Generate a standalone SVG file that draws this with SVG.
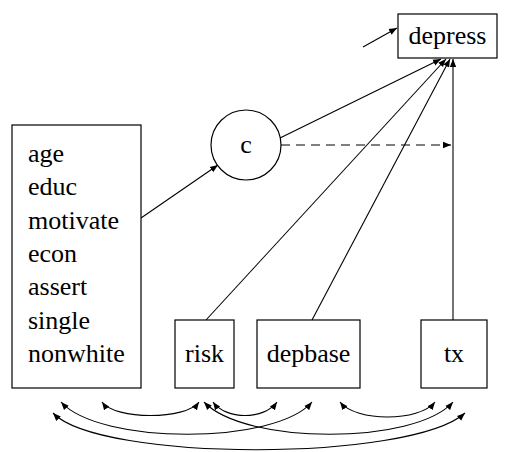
<svg xmlns="http://www.w3.org/2000/svg" width="505" height="452" viewBox="0 0 505 452">
<style>
.box{fill:#fff;stroke:#000;stroke-width:1.2}
.c{stroke:#000;stroke-width:1.1;fill:none}
</style>
<defs>
<marker id="ah" viewBox="0 0 10 10" refX="10" refY="5" markerWidth="8" markerHeight="8" markerUnits="userSpaceOnUse" orient="auto-start-reverse">
<path d="M0,1 L10,5 L0,9 z" fill="#000"/>
</marker>
</defs>
<rect width="505" height="452" fill="#fff"/>
<g id="connectors">
<line class="c" x1="363" y1="47" x2="397" y2="28" marker-end="url(#ah)"/>
<line class="c" x1="141" y1="218" x2="218" y2="165" marker-end="url(#ah)"/>
<line class="c" x1="280" y1="138" x2="441" y2="59" marker-end="url(#ah)"/>
<line class="c" x1="206" y1="320" x2="446" y2="59" marker-end="url(#ah)"/>
<line class="c" x1="312" y1="320" x2="450" y2="59" marker-end="url(#ah)"/>
<line class="c" x1="453" y1="320" x2="453" y2="59" marker-end="url(#ah)"/>
<line class="c" x1="281" y1="145" x2="451" y2="145" stroke-dasharray="9,6" marker-end="url(#ah)"/>
<path class="c" d="M102,402 C115,420 186,420 199,402" marker-start="url(#ah)" marker-end="url(#ah)"/>
<path class="c" d="M213,402 C226,420 264,420 277,402" marker-start="url(#ah)" marker-end="url(#ah)"/>
<path class="c" d="M340,402 C356,422 419,422 435,402" marker-start="url(#ah)" marker-end="url(#ah)"/>
<path class="c" d="M61,402 C100,445 275,445 312,402" marker-start="url(#ah)" marker-end="url(#ah)"/>
<path class="c" d="M204,402 C245,445 415,445 453,402" marker-start="url(#ah)" marker-end="url(#ah)"/>
<path class="c" d="M53,413 C100,462 410,462 465,413" marker-start="url(#ah)" marker-end="url(#ah)"/>
</g>
<g font-family="Liberation Serif, Times New Roman, DejaVu Serif, serif" font-size="26" fill="#000">
<g id="covariates">
<rect class="box" x="12" y="125" width="129" height="263"/>
<text x="28" y="162">age</text>
<text x="28" y="195">educ</text>
<text x="28" y="229">motivate</text>
<text x="28" y="262">econ</text>
<text x="28" y="295">assert</text>
<text x="28" y="329">single</text>
<text x="28" y="362">nonwhite</text>
</g>
<g id="c">
<circle cx="246" cy="145" r="35" fill="#fff" stroke="#000" stroke-width="1.2"/>
<text x="246" y="153" text-anchor="middle">c</text>
</g>
<g id="depress">
<rect class="box" x="398" y="14" width="99" height="44"/>
<text x="447.5" y="44" text-anchor="middle">depress</text>
</g>
<g id="risk">
<rect class="box" x="175" y="320" width="59" height="68"/>
<text x="204.5" y="362" text-anchor="middle">risk</text>
</g>
<g id="depbase">
<rect class="box" x="257" y="320" width="103" height="68"/>
<text x="308.5" y="362" text-anchor="middle">depbase</text>
</g>
<g id="tx">
<rect class="box" x="421" y="320" width="66" height="68"/>
<text x="454" y="362" text-anchor="middle">tx</text>
</g>
</g>
</svg>
